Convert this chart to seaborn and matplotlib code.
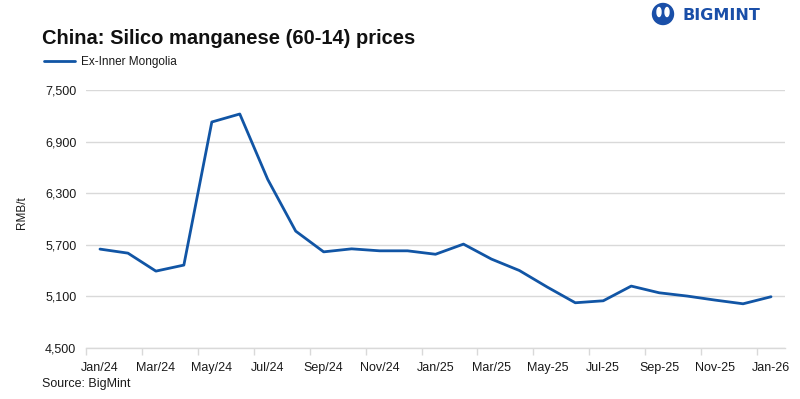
import matplotlib
matplotlib.use("Agg")
import matplotlib.pyplot as plt
from matplotlib.patches import Ellipse
import seaborn as sns
import pandas as pd

# ---- data ----
months = ["Jan/24", "Feb/24", "Mar/24", "Apr/24", "May/24", "Jun/24", "Jul/24",
          "Aug/24", "Sep/24", "Oct/24", "Nov/24", "Dec/24", "Jan/25", "Feb/25",
          "Mar/25", "Apr/25", "May-25", "Jun-25", "Jul-25", "Aug-25", "Sep-25",
          "Oct-25", "Nov-25", "Dec-25", "Jan-26"]
prices = [5650, 5603, 5394, 5464, 7128, 7221, 6460, 5859, 5618, 5653, 5630, 5630,
          5590, 5708, 5534, 5401, 5208, 5026, 5049, 5220, 5142, 5104, 5057, 5014, 5096]
series_name = "Ex-Inner Mongolia"
y_ticks = [4500, 5100, 5700, 6300, 6900, 7500]

title = "China: Silico manganese (60-14) prices"
y_label = "RMB/t"
source = "Source: BigMint"

# ---- style ----
sns.set_theme(style="white")
plt.rcParams['font.family'] = ['Liberation Sans', 'DejaVu Sans']
line_color = "#1155A5"
grid_color = "#D9D9D9"
text_color = "#1A1A1A"

fig = plt.figure(figsize=(8, 3.99), dpi=100)
ax = fig.add_axes([86 / 800, 1 - 348 / 399, (785 - 86) / 800, (348 - 90) / 399])

df = pd.DataFrame({"idx": range(len(months)), "price": prices, "series": series_name})
sns.lineplot(data=df, x="idx", y="price", hue="series", palette=[line_color],
             linewidth=2, ax=ax)

ax.set_xlim(-0.5, len(months) - 0.5)
ax.set_ylim(y_ticks[0], y_ticks[-1])
ax.set_yticks(y_ticks)
ax.set_yticklabels([f"{v:,}" for v in y_ticks], fontsize=9, color=text_color)
ax.yaxis.grid(True, color=grid_color, linewidth=1)
ax.set_axisbelow(True)

major = list(range(0, len(months), 2))
ax.set_xticks(major)
ax.set_xticklabels([months[i] for i in major], fontsize=9, color=text_color)
ax.set_xticks([i - 0.5 for i in major], minor=True)
ax.tick_params(axis="x", which="major", length=0, pad=10)
ax.tick_params(axis="x", which="minor", length=5, width=1, color=grid_color, bottom=True)
ax.tick_params(axis="y", length=0, pad=7)

for s in ["left", "right", "top"]:
    ax.spines[s].set_visible(False)
ax.spines["bottom"].set_color(grid_color)
ax.spines["bottom"].set_linewidth(1)
ax.set_xlabel("")
ax.set_ylabel("")

ax.legend(loc="center left", bbox_to_anchor=(44 / 800, 1 - 62 / 399),
          bbox_transform=fig.transFigure, frameon=False, fontsize=8.5,
          handlelength=2.6, borderaxespad=0, borderpad=0, handletextpad=0.5,
          labelcolor=text_color)

fig.text(42 / 800, 1 - 38 / 399, title, fontsize=14.5, fontweight="bold",
         va="center", ha="left", color="#111111")
fig.text(22 / 800, 1 - 213 / 399, y_label, rotation=90, fontsize=8.5,
         va="center", ha="center", color=text_color)
fig.text(42 / 800, 1 - 384 / 399, source, fontsize=9, va="center", ha="left",
         color=text_color)

# logo
logo_blue = "#1A4FA8"
fig.patches.append(Ellipse((663 / 800, 1 - 14 / 399), 21 / 800, 21 / 399,
                           transform=fig.transFigure, color=logo_blue))
fig.patches.append(Ellipse((659 / 800, 1 - 12 / 399), 4 / 800, 9 / 399,
                           transform=fig.transFigure, color="white"))
fig.patches.append(Ellipse((667 / 800, 1 - 12 / 399), 4 / 800, 9 / 399,
                           transform=fig.transFigure, color="white"))
fig.text(683 / 800, 1 - 16 / 399, "BIGMINT", fontsize=11.5, fontweight="bold",
         va="center", ha="left", color=logo_blue,
         family=["DejaVu Sans"])

fig.savefig("out.png", dpi=100)
